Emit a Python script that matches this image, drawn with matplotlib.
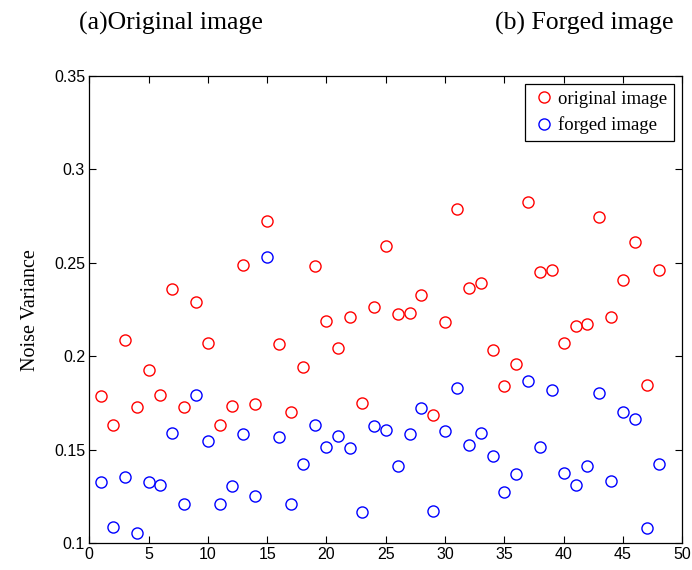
import numpy as np
import matplotlib
matplotlib.use("Agg")
from matplotlib import pyplot as plt

# noise variance per test image, original vs forged
idx = np.arange(1, 49)
original_var = [0.1788, 0.1633, 0.2088, 0.1729, 0.1927, 0.1795, 0.2359, 0.1729,
                0.2293, 0.2073, 0.1633, 0.1736, 0.2489, 0.1745, 0.2723, 0.2066,
                0.1701, 0.1942, 0.2482, 0.2189, 0.2045, 0.2213, 0.1753, 0.2264,
                0.2592, 0.2227, 0.2234, 0.2328, 0.1687, 0.2182, 0.2789, 0.2366,
                0.2394, 0.2036, 0.1840, 0.1958, 0.2826, 0.2451, 0.2460, 0.2073,
                0.2161, 0.2175, 0.2746, 0.2213, 0.2409, 0.2614, 0.1847, 0.2460]
forged_var = [0.1326, 0.1086, 0.1357, 0.1057, 0.1326, 0.1312, 0.1590, 0.1210,
              0.1795, 0.1547, 0.1210, 0.1305, 0.1583, 0.1255, 0.2534, 0.1569,
              0.1210, 0.1423, 0.1635, 0.1517, 0.1576, 0.1510, 0.1168, 0.1628,
              0.1606, 0.1415, 0.1583, 0.1722, 0.1175, 0.1599, 0.1833, 0.1524,
              0.1590, 0.1465, 0.1276, 0.1371, 0.1868, 0.1517, 0.1818, 0.1378,
              0.1312, 0.1415, 0.1804, 0.1335, 0.1701, 0.1663, 0.1080, 0.1423]
xticks = np.arange(0, 51, 5)
yticks = [0.1, 0.15, 0.2, 0.25, 0.3, 0.35]
ytick_labels = ['0.1', '0.15', '0.2', '0.25', '0.3', '0.35']

serif = ["Liberation Serif", "DejaVu Serif"]
sans = ["Liberation Sans", "DejaVu Sans"]

fig = plt.figure(figsize=(6.92, 5.70), dpi=100)
ax = fig.add_axes([0.129, 0.0468, 0.857, 0.82])

ax.plot(idx, original_var, 'o', mfc='none', mec='red', ms=8, mew=1.0,
        label='original image')
ax.plot(idx, forged_var, 'o', mfc='none', mec='blue', ms=8, mew=1.0,
        label='forged image')

ax.set_xlim(0, 50)
ax.set_ylim(0.1, 0.35)
ax.set_xticks(xticks)
ax.set_yticks(yticks)
ax.set_yticklabels(ytick_labels)
ax.tick_params(direction='in', top=True, right=True, length=5, width=0.8,
               labelsize=11.5, pad=3)
for lab in ax.get_xticklabels() + ax.get_yticklabels():
    lab.set_family(sans)
for sp in ax.spines.values():
    sp.set_linewidth(0.9)

ax.set_ylabel('Noise Variance', family=serif, fontsize=14.5, labelpad=10)

leg = ax.legend(loc='upper right', prop={'family': serif, 'size': 13.5},
                fancybox=False, edgecolor='black', framealpha=1,
                handletextpad=0.1, handlelength=1.3, borderpad=0.35,
                labelspacing=0.45, borderaxespad=0.45)
leg.get_frame().set_linewidth(0.9)

fig.text(0.247, 0.958, '(a)Original image', family=serif, fontsize=18.5,
         ha='center', va='center')
fig.text(0.845, 0.958, '(b) Forged image', family=serif, fontsize=18.5,
         ha='center', va='center')

fig.savefig('out.png', dpi=100)
